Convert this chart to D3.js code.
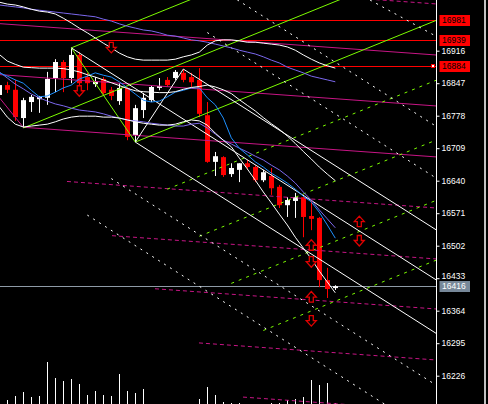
<!DOCTYPE html>
<html><head><meta charset="utf-8">
<script src="https://cdn.jsdelivr.net/npm/d3@7"></script>
<style>html,body{margin:0;padding:0;background:#000;overflow:hidden;} svg{display:block;}</style>
</head><body><svg id="c" width="488" height="404"></svg>
<script>
// ---------- DATA ----------
const candleOpen  = [16822,16843,16833,16773,16807,16813,16816,16858,16892,16858,16907,16860,16845,16856,16833,16809,16837,16737,16790,16811,16837,16854,16858,16869,16860,16854,16779,16680,16690,16654,16663,16677,16669,16641,16650,16627,16588,16597,16605,16565,16561,16429,16412];
const candleHigh  = [16850,16850,16854,16816,16822,16820,16871,16898,16896,16922,16913,16869,16860,16860,16839,16847,16839,16801,16826,16843,16858,16860,16875,16877,16869,16879,16807,16701,16692,16677,16677,16684,16673,16663,16667,16631,16605,16614,16607,16599,16563,16455,16418];
const candleLow   = [16816,16826,16767,16752,16786,16784,16801,16828,16828,16847,16843,16832,16839,16822,16811,16801,16726,16722,16773,16807,16832,16839,16854,16849,16839,16775,16678,16650,16648,16648,16637,16663,16637,16637,16610,16582,16563,16561,16520,16535,16414,16391,16408];
const candleClose = [16843,16833,16775,16811,16818,16818,16856,16892,16858,16907,16847,16847,16850,16826,16820,16837,16733,16794,16816,16839,16841,16843,16871,16854,16849,16782,16680,16692,16652,16667,16677,16669,16641,16658,16624,16588,16599,16605,16563,16559,16429,16410,16416];
const volume      = [30,40,80,120,70,80,420,260,230,250,200,90,130,90,80,300,130,110,150,0,0,0,0,0,0,50,170,90,20,10,10,0,0,0,10,10,40,50,70,240,190,210,10];

const maFast  = [16869,16862,16854,16847,16832,16818,16820,16828,16837,16843,16856,16862,16869,16864,16860,16850,16837,16824,16811,16807,16809,16818,16828,16832,16837,16837,16816,16801,16773,16731,16709,16695,16680,16669,16656,16646,16635,16622,16607,16595,16573,16546,16518];
const maSlow  = [16871,16858,16845,16835,16824,16816,16809,16803,16799,16794,16790,16788,16786,16782,16777,16773,16769,16767,16765,16762,16760,16758,16756,16756,16760,16762,16752,16739,16726,16718,16709,16701,16692,16684,16673,16663,16650,16635,16616,16599,16578,16559,16540];
const envUpper = [17013,17011,17009,17007,17004,17002,17000,16998,16996,16994,16992,16990,16988,16983,16979,16973,16968,16964,16960,16958,16954,16949,16947,16943,16939,16937,16934,16930,16926,16922,16917,16913,16909,16903,16896,16890,16881,16875,16869,16862,16858,16854,16850];
const bbUpper = [17019,17015,17013,17009,17004,17000,16998,16994,16985,16975,16964,16954,16943,16932,16922,16911,16903,16898,16896,16896,16896,16896,16898,16903,16907,16913,16928,16937,16939,16939,16937,16934,16934,16932,16930,16928,16924,16917,16907,16898,16890,16884,16879];
const bbMiddle = [16908,16894,16887,16881,16880,16879,16879,16879,16878,16875,16871,16865,16860,16854,16848,16842,16836,16831,16829,16828,16827,16827,16829,16834,16838,16840,16843,16839,16833,16825,16812,16800,16788,16774,16761,16749,16735,16719,16702,16686,16669,16654,16640];
const bbLower = [16797,16775,16760,16754,16756,16758,16760,16765,16771,16775,16777,16777,16777,16775,16775,16773,16769,16765,16762,16760,16758,16758,16760,16765,16769,16767,16758,16741,16726,16712,16688,16665,16641,16616,16593,16569,16546,16520,16497,16474,16448,16425,16402];

const tickValues = [16916,16847,16778,16709,16640,16571,16502,16433,16364,16295,16226];
const levelLines = [16981,16939,16884];   // red horizontal lines with labels
const lastPrice = 16416;

// drawn objects: [barStart, priceStart, barEnd, priceEnd]
const greenSolid = [[9,16922,55,17238.5],[3,16752,55,17110],[17,16722,55,16983],[9,16922,17,16722]];
const greenDashed = [[21,16622,55,16856],[25,16522,55,16729],[29,16422,55,16601],[33,16322,55,16474]];
const magentaSolid = [[0,16973.5,55,16906.4],[0,16865.3,55,16798.2],[3,16753.4,55,16690],[-2.5,16869,3,16753.4]];
const magentaDashed = [[8.46,16638.4,55,16581.6],[14.09,16523.3,55,16473.4],[19.46,16410.6,55,16367.2],[24.96,16295.6,55,16258.9],[30.46,16180.6,55,16150.7],[45.3,17026.6,55,17014.8]];
const whiteSolid = [[17,16722,55,16311.6],[23,16877,55,16531.4],[9,16922,55,16425.2],[17,16722,23,16877]];
const whiteDashed = [[14,16644.5,55,16201.7],[11,16567,55,16091.8],[26,16954.5,55,16641.3],[29,17032,55,16751.2],[46.34,17023.6,55,16942.9]];
// arrows
const arrowBars   = [10,14,39,39,45,45,39,39];
const arrowPrices = [16831,16923,16503,16468,16553,16513,16393,16343];
const arrowDirs   = ["down","down","up","down","up","down","up","down"];

// ---------- SCALES ----------
const svg = d3.select("#c");
const W = 488, H = 404, plotRight = 436;
const x = d3.scaleLinear().domain([0, 42]).range([-0.7, 335.3]);
const y = d3.scaleLinear().domain([16226, 16916]).range([375.7, 50.7]);
const yv = d3.scaleLinear().domain([0, 1000]).range([404, 304]);

svg.append("rect").attr("width", W).attr("height", H).attr("fill", "#000");
svg.append("defs").append("clipPath").attr("id", "plot")
  .append("rect").attr("x", 0).attr("y", 0).attr("width", plotRight).attr("height", H);
const g = svg.append("g").attr("clip-path", "url(#plot)");

// volume
g.append("g").selectAll("line").data(volume).join("line")
  .attr("x1", (d,i) => Math.round(x(i)) + 0.5).attr("x2", (d,i) => Math.round(x(i)) + 0.5)
  .attr("y1", yv(0)).attr("y2", d => yv(d))
  .attr("stroke", "#fff").attr("stroke-width", 1);

// horizontal levels
g.append("g").selectAll("line").data(levelLines).join("line")
  .attr("x1", 0).attr("x2", plotRight)
  .attr("y1", d => Math.round(y(d)) + 0.5).attr("y2", d => Math.round(y(d)) + 0.5)
  .attr("stroke", "#ff0000").attr("stroke-width", 1);
g.append("line").attr("x1", 0).attr("x2", plotRight)
  .attr("y1", Math.round(y(lastPrice)) + 0.5).attr("y2", Math.round(y(lastPrice)) + 0.5)
  .attr("stroke", "#8e9aa6").attr("stroke-width", 1);

// candles
const idx = d3.range(candleOpen.length);
const cg = g.append("g");
idx.forEach(i => {
  const up = candleClose[i] >= candleOpen[i];
  const col = up ? "#ffffff" : "#ff0000";
  const cx = Math.round(x(i)) + 0.5;
  cg.append("line").attr("x1", cx).attr("x2", cx)
    .attr("y1", y(candleHigh[i])).attr("y2", y(candleLow[i]))
    .attr("stroke", col).attr("stroke-width", 1);
  const top = y(Math.max(candleOpen[i], candleClose[i]));
  const bot = y(Math.min(candleOpen[i], candleClose[i]));
  cg.append("rect").attr("x", cx - 2.5).attr("width", 5)
    .attr("y", top).attr("height", Math.max(1, bot - top)).attr("fill", col);
});

// drawn line objects
function drawSegs(data, color, dash) {
  g.append("g").selectAll("line").data(data).join("line")
    .attr("x1", d => x(d[0])).attr("y1", d => y(d[1]))
    .attr("x2", d => x(d[2])).attr("y2", d => y(d[3]))
    .attr("stroke", color).attr("stroke-width", 1)
    .attr("stroke-dasharray", dash || null);
}
drawSegs(magentaSolid, "#c71585");
drawSegs(magentaDashed, "#c71585", "4,3");
drawSegs(greenSolid, "#7cfc00");
drawSegs(greenDashed, "#7cfc00", "3,5");
drawSegs(whiteSolid, "#ffffff");
drawSegs(whiteDashed, "#ffffff", "2,5");

// indicator lines
const line = d3.line().x((d,i) => x(i)).y(d => y(d));
[[envUpper, "#7b68ee"], [maSlow, "#7b68ee"], [maFast, "#1e90ff"],
 [bbUpper, "#ffffff"], [bbMiddle, "#ffffff"], [bbLower, "#ffffff"]].forEach(([arr, col]) => {
  g.append("path").datum(arr).attr("d", line).attr("fill", "none")
    .attr("stroke", col).attr("stroke-width", 1);
});

// arrows
const ag = g.append("g");
d3.range(arrowBars.length).forEach(k => {
  const cx = x(arrowBars[k]), cy = y(arrowPrices[k]);
  const s = arrowDirs[k] === "up" ? -1 : 1;
  const p = d3.path();
  p.moveTo(cx, cy + 5.5 * s);
  p.lineTo(cx + 5, cy);
  p.lineTo(cx + 2, cy);
  p.lineTo(cx + 2, cy - 5 * s);
  p.lineTo(cx - 2, cy - 5 * s);
  p.lineTo(cx - 2, cy);
  p.lineTo(cx - 5, cy);
  p.closePath();
  ag.append("path").attr("d", p.toString()).attr("fill", "#000")
    .attr("stroke", "#e00000").attr("stroke-width", 1.3);
});

// marker square
svg.append("rect").attr("x", 431.5).attr("y", Math.round(y(16884)) - 1.5).attr("width", 3).attr("height", 3)
  .attr("fill", "#fff").attr("stroke", "#ff0000").attr("stroke-width", 1);

// axis
const axis = d3.axisRight(y).tickValues(tickValues).tickSize(3).tickPadding(2).tickFormat(d3.format("d"));
const ax = svg.append("g").attr("transform", `translate(${plotRight + 0.5},0)`).call(axis);
ax.select(".domain").remove();
ax.selectAll(".tick line").attr("stroke", "#fff");
ax.selectAll(".tick text").attr("fill", "#fff").attr("font-family", "Liberation Sans, Arial, sans-serif").attr("font-size", "8.5px")
  .attr("dy", d => d === 16433 ? "0.05em" : "0.32em");
svg.append("line").attr("x1", plotRight + 0.5).attr("x2", plotRight + 0.5).attr("y1", 0).attr("y2", H).attr("stroke", "#fff");

// price labels
function priceLabel(v, bg, fg) {
  const cy = y(v);
  svg.append("rect").attr("x", 439.5).attr("y", Math.round(cy) - 5).attr("width", 30.5).attr("height", 11).attr("fill", bg);
  svg.append("text").attr("x", 442).attr("y", Math.round(cy) + 0.5).attr("dy", "0.34em")
    .attr("fill", fg).attr("font-family", "Liberation Sans, Arial, sans-serif").attr("font-size", "8.5px").text(v);
}
levelLines.forEach(v => priceLabel(v, "#ff0000", "#000"));
priceLabel(lastPrice, "#778899", "#fff");

// right border
svg.append("rect").attr("x", 484).attr("y", 0).attr("width", 2).attr("height", H).attr("fill", "#c0c0c0");
</script></body></html>
